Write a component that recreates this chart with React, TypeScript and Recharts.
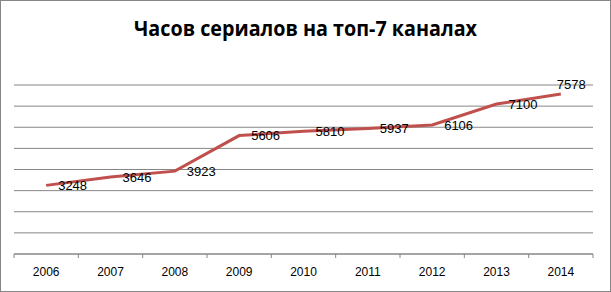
import { LineChart, Line, XAxis, YAxis, CartesianGrid, LabelList } from 'recharts';

const years = ['2006', '2007', '2008', '2009', '2010', '2011', '2012', '2013', '2014'];
const hours = [3248, 3646, 3923, 5606, 5810, 5937, 6106, 7100, 7578];
const yTicks = [0, 1000, 2000, 3000, 4000, 5000, 6000, 7000, 8000];

const W = 611;
const H = 292;
const margin = { top: 85, right: 18, bottom: 8, left: 14 };
const GRAY = '#868686';

const data = years.map((year, i) => ({ year, hours: hours[i] }));
const bandW = (W - margin.left - margin.right) / years.length;

function YearTick(props: any) {
  const { x, y, payload, index } = props;
  const last = index === years.length - 1;
  return (
    <g>
      <line x1={x - bandW / 2} x2={x - bandW / 2} y1={y} y2={y + 4} stroke={GRAY} />
      {last && <line x1={x + bandW / 2} x2={x + bandW / 2} y1={y} y2={y + 4} stroke={GRAY} />}
      <text x={x} y={y + 22} textAnchor="middle" fontSize={12} fill="#000"
        fontFamily="'Liberation Sans', Arial, sans-serif">
        {payload.value}
      </text>
    </g>
  );
}

function ValueLabel(props: any) {
  const { x, y, value, index } = props;
  // Excel pushes the last label above the point since there is no room on the right
  const last = index === hours.length - 1;
  return (
    <text
      x={last ? x - 4 : x + 12}
      y={last ? y - 5.4 : y + 4.6}
      fontSize={13}
      fill="#000"
      fontFamily="'Liberation Sans', Arial, sans-serif"
    >
      {value}
    </text>
  );
}

export default function App() {
  return (
    <div style={{ position: 'absolute', left: 0, top: 0, width: W, height: H, background: '#fff' }}>
      <LineChart width={W} height={H} data={data} margin={margin}>
        <CartesianGrid vertical={false} stroke={GRAY} strokeDasharray="" />
        <XAxis
          dataKey="year"
          scale="band"
          height={30}
          tickSize={0}
          tickMargin={0}
          tickLine={false}
          axisLine={{ stroke: GRAY }}
          tick={<YearTick />}
          interval={0}
        />
        <YAxis hide domain={[0, 8000]} ticks={yTicks} interval={0} />
        <Line
          type="linear"
          dataKey="hours"
          stroke="#C0504D"
          strokeWidth={3}
          dot={false}
          isAnimationActive={false}
        >
          <LabelList dataKey="hours" content={<ValueLabel />} />
        </Line>
      </LineChart>
      <svg width={W} height={60} style={{ position: 'absolute', left: 0, top: 0 }}>
        <text
          x={W / 2}
          y={36}
          textAnchor="middle"
          fontSize={21}
          fontWeight="bold"
          fontFamily="'Open Sans', sans-serif"
          textLength={343}
          lengthAdjust="spacingAndGlyphs"
          fill="#000"
        >
          Часов сериалов на топ-7 каналах
        </text>
      </svg>
      <div
        style={{
          position: 'absolute',
          left: 0,
          top: 0,
          width: W,
          height: H,
          boxSizing: 'border-box',
          border: `1px solid ${GRAY}`,
          pointerEvents: 'none',
        }}
      />
    </div>
  );
}
